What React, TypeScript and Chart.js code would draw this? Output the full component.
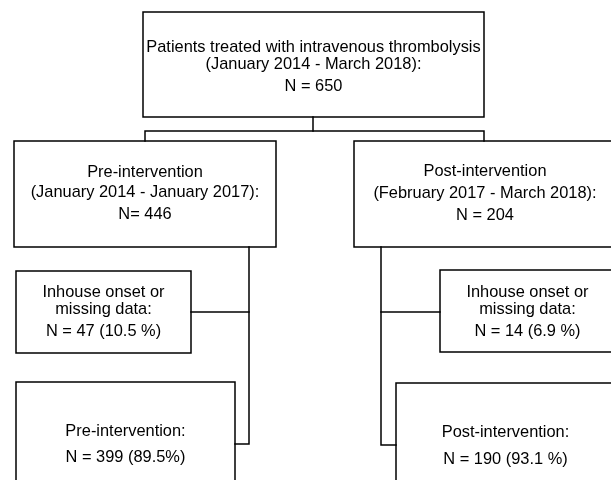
import React, { useEffect, useRef } from "react";
import { Chart, registerables } from "chart.js";

Chart.register(...registerables);

// Flowchart content
const boxTexts: string[][] = [
  ["Patients treated with intravenous thrombolysis", "(January 2014 - March 2018):", "N = 650"],
  ["Pre-intervention", "(January 2014 - January 2017):", "N= 446"],
  ["Post-intervention", "(February 2017 - March 2018):", "N = 204"],
  ["Inhouse onset or", "missing data:", "N = 47 (10.5 %)"],
  ["Inhouse onset or", "missing data:", "N = 14 (6.9 %)"],
  ["Pre-intervention:", "N = 399 (89.5%)"],
  ["Post-intervention:", "N = 190 (93.1 %)"],
];

// Layout in chart units (x: 0..611, y: 0..480 top-down)
const boxX0 = [143, 14, 354, 16, 440, 16, 396];
const boxX1 = [484, 276, 616, 191, 615, 235, 615];
const boxY0 = [12, 141, 141, 271, 270, 382, 383];
const boxY1 = [117, 247, 247, 353, 352, 505, 505];
const textLineY: number[][] = [
  [47, 64, 86],
  [172, 192, 214],
  [171, 193, 215],
  [292, 309, 331],
  [292, 309, 331],
  [431, 457],
  [432, 459],
];

// Connectors: polylines [x, y] pairs
const connectors: number[][][] = [
  [[313, 117], [313, 131]],
  [[145, 141], [145, 131], [484, 131], [484, 141]],
  [[249, 247], [249, 444], [235, 444]],
  [[191, 312], [249, 312]],
  [[381, 247], [381, 445], [396, 445]],
  [[381, 312], [440, 312]],
];

export default function App() {
  const ref = useRef<HTMLCanvasElement>(null);
  useEffect(() => {
    document.body.style.margin = "0";
    const canvas = ref.current!;
    const datasets: any[] = [];
    boxX0.forEach((x0, i) => {
      const x1 = boxX1[i];
      const y0 = boxY0[i];
      const y1 = boxY1[i];
      datasets.push({
        data: [
          { x: x0, y: y0 },
          { x: x1, y: y0 },
          { x: x1, y: y1 },
          { x: x0, y: y1 },
          { x: x0, y: y0 },
        ],
        showLine: true,
        borderColor: "#000",
        borderWidth: 1.5,
        pointRadius: 0,
        fill: false,
        tension: 0,
      });
    });
    connectors.forEach((pl) => {
      datasets.push({
        data: pl.map(([x, y]) => ({ x, y })),
        showLine: true,
        borderColor: "#000",
        borderWidth: 1.5,
        pointRadius: 0,
        fill: false,
        tension: 0,
      });
    });

    const textPlugin = {
      id: "boxText",
      afterDatasetsDraw(chart: any) {
        const ctx = chart.ctx;
        const xs = chart.scales.x;
        const ys = chart.scales.y;
        ctx.save();
        ctx.fillStyle = "#000";
        ctx.font = '16.4px "Liberation Sans", Arial, sans-serif';
        ctx.textAlign = "center";
        ctx.textBaseline = "middle";
        boxTexts.forEach((lines, i) => {
          const cx = xs.getPixelForValue((boxX0[i] + boxX1[i]) / 2);
          lines.forEach((t, j) => {
            ctx.fillText(t, cx, ys.getPixelForValue(textLineY[i][j]));
          });
        });
        ctx.restore();
      },
    };

    const chart = new Chart(canvas, {
      type: "scatter",
      data: { datasets },
      options: {
        animation: false,
        responsive: false,
        events: [],
        layout: { padding: 0 },
        plugins: { legend: { display: false }, tooltip: { enabled: false } },
        scales: {
          x: { type: "linear", min: 0, max: 611, display: false },
          y: { type: "linear", min: 0, max: 480, reverse: true, display: false },
        },
        elements: { line: { borderCapStyle: "square", borderJoinStyle: "miter" } },
      },
      plugins: [textPlugin],
    });
    return () => chart.destroy();
  }, []);
  return (
    <div style={{ position: "absolute", left: 0, top: 0, width: 611, height: 480, background: "#fff" }}>
      <canvas ref={ref} width={611} height={480} style={{ display: "block" }} />
    </div>
  );
}
